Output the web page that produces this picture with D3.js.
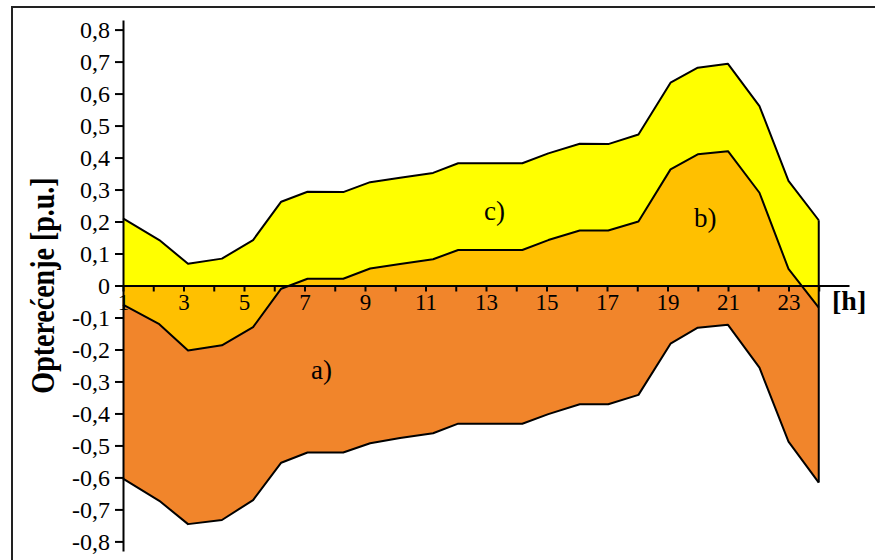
<!DOCTYPE html>
<html>
<head>
<meta charset="utf-8">
<script src="https://cdn.jsdelivr.net/npm/d3@7"></script>
<style>
  body { margin: 0; background: #fff; }
  svg { display: block; font-family: "Liberation Serif", "Times New Roman", serif; }
</style>
</head>
<body>
<svg id="chart" width="875" height="560"></svg>
<script>
// hour positions of the points as drawn (slightly uneven in the original)
const hours = [1, 2.2, 3.15, 4.27, 5.3, 6.23, 7.1, 8.28, 9.17, 10.16, 11.25, 12.08,
               13.14, 14.2, 15.06, 16.1, 17.04, 18.04, 19.1, 20, 21, 22.04, 23, 24]

// c) upper curve
const seriesC = [0.21, 0.142, 0.068, 0.084, 0.142, 0.262, 0.293, 0.292, 0.323, 0.337, 0.352, 0.382,
                 0.382, 0.382, 0.413, 0.443, 0.442, 0.472, 0.634, 0.681, 0.693, 0.561, 0.327, 0.204]
// b) middle curve
const seriesB = [-0.06, -0.121, -0.203, -0.187, -0.13, -0.01, 0.021, 0.021, 0.053, 0.067, 0.082, 0.111,
                 0.111, 0.111, 0.142, 0.172, 0.172, 0.2, 0.363, 0.41, 0.42, 0.29, 0.052, -0.069]
// a) lower curve
const seriesA = [-0.604, -0.673, -0.746, -0.733, -0.671, -0.554, -0.522, -0.522, -0.493, -0.477, -0.462, -0.432,
                 -0.432, -0.432, -0.402, -0.371, -0.371, -0.342, -0.182, -0.132, -0.123, -0.257, -0.488, -0.616]

const yTicks = d3.range(-8, 9).map(i => i / 10)
const xTicks = d3.range(1, 25)

const svg = d3.select('#chart')

// outer frame
svg.append('rect').attr('x', 12).attr('y', 7).attr('width', 880).attr('height', 600)
  .attr('fill', 'none').attr('stroke', '#222').attr('stroke-width', 2)

const x = d3.scaleLinear().domain([1, 25]).range([123, 849])
const y = d3.scaleLinear().domain([-0.83, 0.83]).range([551, 20])

const pts = hours.map((h, i) => ({h: h, a: seriesA[i], b: seriesB[i], c: seriesC[i]}))

const area = key => d3.area().x(d => x(d.h)).y0(y(0)).y1(d => y(d[key]))
const line = key => d3.line().x(d => x(d.h)).y(d => y(d[key]))

svg.append('path').datum(pts).attr('d', area('c')).attr('fill', '#ffff00')
svg.append('path').datum(pts).attr('d', area('a')).attr('fill', '#f1852b')
svg.append('path').datum(pts).attr('d', area('b')).attr('fill', '#ffc000')

;['c', 'b', 'a'].forEach(k => {
  svg.append('path').datum(pts).attr('d', line(k))
    .attr('fill', 'none').attr('stroke', '#000').attr('stroke-width', 2).attr('stroke-linejoin', 'round')
})

// closing edge at the last hour
const last = pts[pts.length - 1]
svg.append('line')
  .attr('x1', x(last.h)).attr('x2', x(last.h))
  .attr('y1', y(last.c)).attr('y2', y(last.a))
  .attr('stroke', '#000').attr('stroke-width', 2)

// x axis on zero line
const xAxis = svg.append('g').attr('transform', `translate(0,${y(0)})`)
  .call(d3.axisBottom(x).tickValues(xTicks).tickFormat(d => d % 2 ? d : '')
    .tickSize(6).tickSizeOuter(0).tickPadding(2))
xAxis.select('.domain').attr('stroke-width', 2)
xAxis.selectAll('.tick line').attr('stroke-width', 2)
xAxis.selectAll('text').attr('font-size', 23).attr('fill', '#000')
  .attr('font-family', '"Liberation Serif", serif')

// y axis
const yAxis = svg.append('g').attr('transform', `translate(${x(1)},0)`)
  .call(d3.axisLeft(y).tickValues(yTicks)
    .tickFormat(v => Math.abs(v) < 1e-9 ? '0' : v.toFixed(1).replace('.', ','))
    .tickSize(8).tickSizeOuter(0).tickPadding(5))
yAxis.select('.domain').attr('stroke-width', 2)
yAxis.selectAll('.tick line').attr('stroke-width', 2)
yAxis.selectAll('text').attr('font-size', 24).attr('fill', '#000')
  .attr('font-family', '"Liberation Serif", serif')

// titles
svg.append('text').text('Opterećenje [p.u.]')
  .attr('transform', `translate(54,${y(0)}) scale(1.2,1) rotate(-90)`)
  .attr('text-anchor', 'middle').attr('font-size', 28).attr('font-weight', 'bold')

svg.append('text').text('[h]').attr('x', 832).attr('y', 310)
  .attr('font-size', 28).attr('font-weight', 'bold')

// area labels
svg.append('text').text('c)').attr('x', 484).attr('y', 220).attr('font-size', 27)
svg.append('text').text('b)').attr('x', 694).attr('y', 227).attr('font-size', 27)
svg.append('text').text('a)').attr('x', 311).attr('y', 379).attr('font-size', 27)
</script>
</body>
</html>
